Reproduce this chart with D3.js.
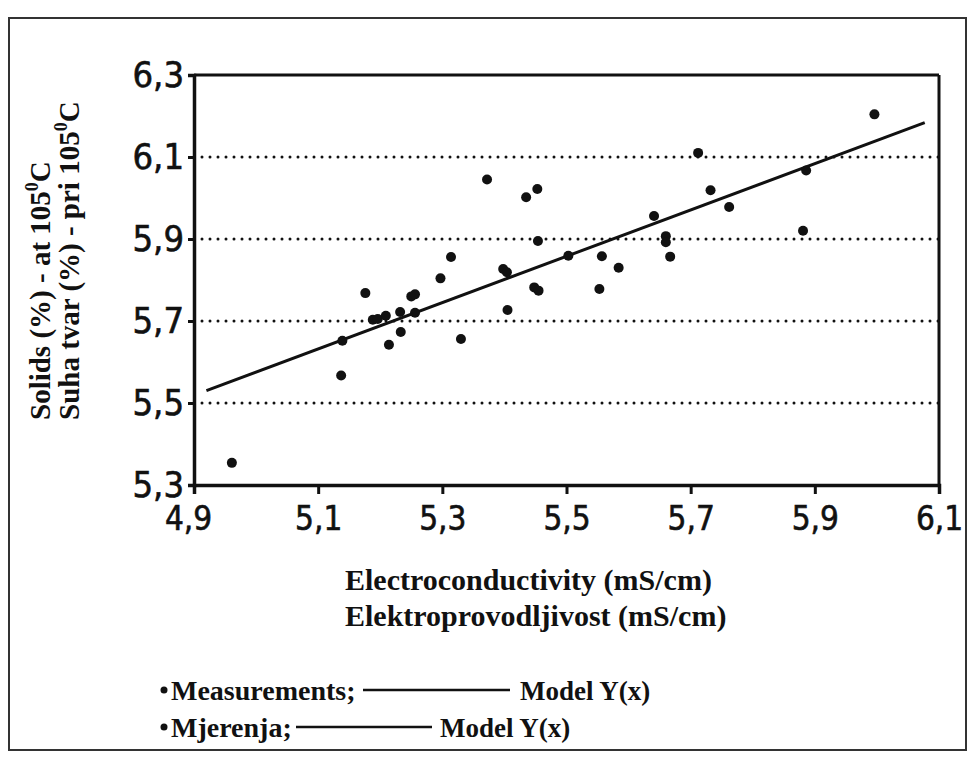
<!DOCTYPE html>
<html>
<head>
<meta charset="utf-8">
<script src="https://cdn.jsdelivr.net/npm/d3@7"></script>
<style>
  html, body { margin: 0; padding: 0; background: #fff; }
  svg { display: block; }
  .tick-lbl { font-family: "DejaVu Sans Condensed", "DejaVu Sans", sans-serif; font-stretch: condensed; }
  .serif { font-family: "Liberation Serif", "Times New Roman", serif; font-weight: bold; }
</style>
</head>
<body>
<svg id="chart" width="969" height="760"></svg>
<script>
const conductivity = [4.961, 5.139, 5.137, 5.176, 5.188, 5.196, 5.209, 5.214, 5.232, 5.233,
  5.250, 5.256, 5.256, 5.297, 5.314, 5.330, 5.372, 5.398, 5.404, 5.405,
  5.435, 5.453, 5.454, 5.448, 5.455, 5.503, 5.553, 5.557, 5.584, 5.641,
  5.660, 5.660, 5.667, 5.712, 5.732, 5.762, 5.881, 5.886, 5.996];
const solids = [5.354, 5.652, 5.567, 5.768, 5.703, 5.705, 5.713, 5.642, 5.722, 5.673,
  5.760, 5.765, 5.720, 5.804, 5.856, 5.656, 6.045, 5.827, 5.819, 5.727,
  6.002, 6.022, 5.895, 5.782, 5.774, 5.859, 5.778, 5.858, 5.830, 5.956,
  5.907, 5.892, 5.857, 6.110, 6.019, 5.978, 5.920, 6.067, 6.204];

// Fitted model Y(x), end points of the drawn line
const modelX = [4.92, 6.077];
const modelY = [5.53, 6.184];

const xTicks = [4.9, 5.1, 5.3, 5.5, 5.7, 5.9, 6.1];
const yTicks = [5.3, 5.5, 5.7, 5.9, 6.1, 6.3];
const gridLevels = [5.5, 5.7, 5.9, 6.1];

const fmt = v => d3.format(".1f")(v).replace(".", ",");

const svg = d3.select("#chart");
const plotL = 194, plotR = 939, plotT = 75, plotB = 485;

const x = d3.scaleLinear().domain([4.9, 6.1]).range([plotL, plotR]);
const y = d3.scaleLinear().domain([5.3, 6.3]).range([plotB, plotT]);

// outer frame
svg.append("rect")
  .attr("x", 9).attr("y", 18).attr("width", 957).attr("height", 732)
  .attr("fill", "none").attr("stroke", "#333").attr("stroke-width", 2);

// dotted grid
svg.append("g").selectAll("line").data(gridLevels).join("line")
  .attr("x1", plotL).attr("x2", plotR)
  .attr("y1", d => y(d)).attr("y2", d => y(d))
  .attr("stroke", "#111").attr("stroke-width", 3)
  .attr("stroke-linecap", "round").attr("stroke-dasharray", "0,8");

// box: top and right
svg.append("line").attr("x1", plotL).attr("x2", plotR).attr("y1", plotT).attr("y2", plotT)
  .attr("stroke", "#111").attr("stroke-width", 3);
svg.append("line").attr("x1", plotR).attr("x2", plotR).attr("y1", plotT).attr("y2", plotB)
  .attr("stroke", "#111").attr("stroke-width", 3);

// axes
const xAxis = svg.append("g").attr("transform", `translate(0,${plotB})`)
  .call(d3.axisBottom(x).tickValues(xTicks).tickFormat(fmt).tickSize(9).tickPadding(13));
const yAxis = svg.append("g").attr("transform", `translate(${plotL},0)`)
  .call(d3.axisLeft(y).tickValues(yTicks).tickFormat(fmt).tickSize(6).tickPadding(4));

[xAxis, yAxis].forEach(g => {
  g.select(".domain").attr("stroke", "#111").attr("stroke-width", 3.5);
  g.selectAll(".tick line").attr("stroke", "#111").attr("stroke-width", 3);
  g.selectAll(".tick text").attr("class", "tick-lbl").attr("fill", "#111")
    .attr("stroke", "#111").attr("stroke-width", 0.6);
});
xAxis.selectAll(".tick text").attr("font-size", 33);
xAxis.selectAll(".tick text").filter(d => d === 4.9).attr("dx", -6);
yAxis.selectAll(".tick text").attr("font-size", 36).attr("dy", "0.33em");

// model line
svg.append("line")
  .attr("x1", x(modelX[0])).attr("y1", y(modelY[0]))
  .attr("x2", x(modelX[1])).attr("y2", y(modelY[1]))
  .attr("stroke", "#111").attr("stroke-width", 3);

// measurements
svg.append("g").selectAll("circle").data(conductivity).join("circle")
  .attr("cx", d => x(d)).attr("cy", (d, i) => y(solids[i]))
  .attr("r", 5).attr("fill", "#111");

// axis titles
const xt = svg.append("text").attr("class", "serif").attr("font-size", 30).attr("fill", "#111");
xt.append("tspan").attr("x", 345).attr("y", 590).text("Electroconductivity (mS/cm)");
xt.append("tspan").attr("x", 345).attr("y", 626).text("Elektroprovodljivost (mS/cm)");

const yLines = [["Solids (%) - at 105", 50], ["Suha tvar (%) - pri 105", 79]];
yLines.forEach(([txt, bx]) => {
  const t = svg.append("text").attr("class", "serif").attr("font-size", 29).attr("fill", "#111")
    .attr("transform", `translate(${bx},420) rotate(-90)`);
  t.append("tspan").text(txt);
  t.append("tspan").attr("font-size", 18).attr("dy", -12).text("0");
  t.append("tspan").attr("dy", 12).text("C");
});

// legend
const legend = [
  { label: "Measurements;", y: 700, lineFrom: 363, lineTo: 510, model: 520 },
  { label: "Mjerenja;", y: 737, lineFrom: 296, lineTo: 432, model: 440 }
];
legend.forEach(l => {
  svg.append("circle").attr("cx", 164).attr("cy", l.y - 10).attr("r", 3.5).attr("fill", "#111");
  svg.append("text").attr("class", "serif").attr("font-size", 28).attr("fill", "#111")
    .attr("x", 171).attr("y", l.y).text(l.label);
  svg.append("line").attr("x1", l.lineFrom).attr("x2", l.lineTo)
    .attr("y1", l.y - 10).attr("y2", l.y - 10).attr("stroke", "#111").attr("stroke-width", 2.5);
  svg.append("text").attr("class", "serif").attr("font-size", 27).attr("fill", "#111")
    .attr("x", l.model).attr("y", l.y).text("Model Y(x)");
});
</script>
</body>
</html>
